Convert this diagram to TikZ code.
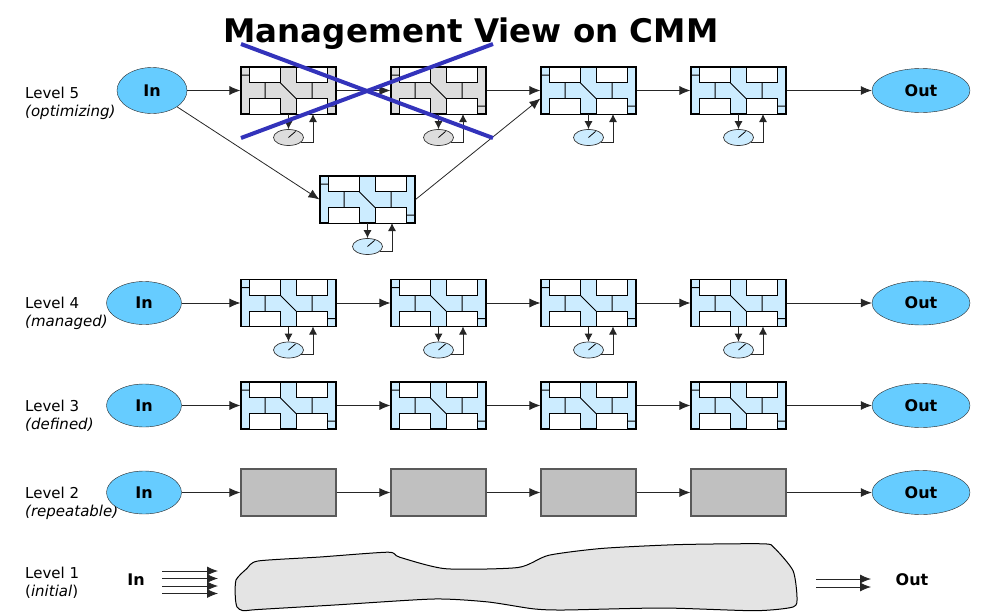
\documentclass[tikz,border=0pt]{standalone}
\usepackage{fontspec}
\setmainfont{DejaVu Sans}
\usepackage{tikz}
\usetikzlibrary{shapes.geometric, positioning, arrows.meta}
\definecolor{cellblue}{RGB}{204,236,255}
\definecolor{cellgray}{RGB}{221,221,221}
\definecolor{termblue}{RGB}{102,204,255}
\definecolor{stepgray}{RGB}{192,192,192}
\definecolor{crossblue}{RGB}{51,51,187}
\definecolor{blobgray}{RGB}{228,228,228}
\newcommand\boxpitch{150}
\tikzset{arrow/.style={draw=black!85, line width=0.8pt, -{Latex[length=11pt,width=9pt]}}}
\tikzset{smallarrow/.style={draw=black!85, line width=0.8pt, -{Latex[length=8pt,width=8pt]}}}
\tikzset{lvltext/.style={anchor=base west, font=\fontsize{15}{18}\selectfont, inner sep=0pt}}
\tikzset{terminal/.style={ellipse, draw=black!85, fill=termblue, minimum width=75, minimum height=43, inner sep=0pt, font=\fontsize{16}{18}\selectfont\bfseries}}
\tikzset{boxframe/.style={rectangle, draw=black, line width=1.1pt, minimum width=95, minimum height=47, inner sep=0pt}}
\tikzset{plainbox/.style={rectangle, draw=black!65, line width=1.2pt, fill=stepgray, minimum width=95, minimum height=47, inner sep=0pt}}
\tikzset{cell/.style={draw=black, fill=white, line width=1pt}}
\tikzset{wire/.style={draw=black, line width=1pt}}
\tikzset{gauge/.style={ellipse, draw=black!80, line width=0.7pt, minimum width=30, minimum height=16, inner sep=0pt}}
\tikzset{crossline/.style={draw=crossblue, line width=4pt}}
\tikzset{procbox/.pic={
  \node[boxframe, fill=#1] (-frame) {};
  \begin{scope}[shift={(-47.5,-23.5)}]
    \foreach \cx in {8,55} \foreach \cy in {0,31.5}
      \draw[cell] (\cx,\cy) rectangle ++(31,15.5);
    \draw[wire] (24,15.5) -- (24,31.5) (71,15.5) -- (71,31.5) (39,15.5) -- (55,31.5)
      (0,8) -- (8,8) (86,39) -- (95,39);
  \end{scope}
}}
\tikzset{meter/.pic={
  \node[gauge, fill=#1] (-dial) at (0,47) {};
  \draw[wire, line width=0.8pt] (-dial.center) -- ++(7,-6);
  \draw[smallarrow] (0,23.5) -- (-dial.north);
  \draw[smallarrow] (-dial.-20) -| (24.5,23.5);
}}

\begin{document}
\begin{tikzpicture}[x=1pt, y=-1pt]
\useasboundingbox (0,0) rectangle (985,613);
\node[anchor=base, inner sep=0pt, font=\fontsize{32.5}{36}\selectfont\bfseries] (title) at (471,42) {Management View on CMM};

\foreach \nm/\ds/\yy in {5/optimizing/98, 4/managed/308, 3/defined/411, 2/repeatable/498} {
	\node[lvltext] (lvl\nm) at (25,\yy) {Level \nm};
	\node[lvltext] (lvd\nm) at (25,\yy+18) {\itshape(\ds)};
}
\node[lvltext] (lvl1) at (25,578) {Level 1};
\node[lvltext] (lvd1) at (25,596) {(\textit{initial})};

% level 5
\node[terminal, minimum width=70, minimum height=46] (in5) at (152,90.5) {In};
\node[terminal, minimum width=98, minimum height=44] (out5) at (921,90.5) {Out};
\foreach \i/\cf in {1/cellgray, 2/cellgray, 3/cellblue, 4/cellblue} {
	\pic (box5\i) at (\i*\boxpitch+138.5,90.5) {procbox=\cf};
	\pic (dial5\i) at (\i*\boxpitch+138.5,90.5) {meter=\cf};
}
\pic (box5low) at (367.5,199.5) {procbox=cellblue};
\pic (dial5low) at (367.5,199.5) {meter=cellblue};
\draw[arrow] (in5) -- (box51-frame);
\foreach \i/\j in {1/2, 2/3, 3/4}
	\draw[arrow] (box5\i-frame) -- (box5\j-frame);
\draw[arrow] (box54-frame) -- (out5);
\draw[arrow] (in5) -- (box5low-frame.west);
\draw[arrow] (box5low-frame.east) -- ([yshift=-8pt]box53-frame.west);
\draw[crossline] (241,44) -- (493,138);
\draw[crossline] (241,138) -- (493,44);

% levels 4 and 3
\foreach \r/\yy in {4/303, 3/405.5} {
	\node[terminal] (in\r) at (144,\yy) {In};
	\node[terminal, minimum width=98, minimum height=44] (out\r) at (921,\yy) {Out};
	\foreach \i in {1,...,4}
		\pic (box\r\i) at (\i*\boxpitch+138.5,\yy) {procbox=cellblue};
	\draw[arrow] (in\r) -- (box\r1-frame);
	\foreach \i/\j in {1/2, 2/3, 3/4}
		\draw[arrow] (box\r\i-frame) -- (box\r\j-frame);
	\draw[arrow] (box\r4-frame) -- (out\r);
}
\foreach \i in {1,...,4}
	\pic (dial4\i) at (\i*\boxpitch+138.5,303) {meter=cellblue};

% level 2
\node[terminal] (in2) at (144,492.5) {In};
\node[terminal, minimum width=98, minimum height=44] (out2) at (921,492.5) {Out};
\foreach \i in {1,...,4}
	\node[plainbox] (box2\i) at (\i*\boxpitch+138.5,492.5) {};
\draw[arrow] (in2) -- (box21);
\foreach \i/\j in {1/2, 2/3, 3/4}
	\draw[arrow] (box2\i) -- (box2\j);
\draw[arrow] (box24) -- (out2);

% level 1
\node[font=\fontsize{16}{18}\selectfont\bfseries] (in1) at (136,580) {In};
\node[font=\fontsize{16}{18}\selectfont\bfseries] (out1) at (912,580) {Out};
\foreach \yy [count=\i] in {571, 578.5, 586, 593.5} {
	\coordinate (fanin\i) at (162,\yy);
	\coordinate (fanend\i) at (218,\yy);
	\draw[arrow] (fanin\i) -- (fanend\i);
}
\foreach \yy [count=\i] in {579, 587} {
	\coordinate (fanout\i) at (816,\yy);
	\coordinate (fantip\i) at (871,\yy);
	\draw[arrow] (fanout\i) -- (fantip\i);
}
\draw[draw=black, line width=1pt, fill=blobgray] plot[smooth cycle, tension=0.4] coordinates {
	(246.7,568.7) (258,561) (320,557) (388,552.2) (399.6,557.2) (445.4,568.7) (518,567.5)
	(548.6,555.3) (602,548.4) (678.5,544.6) (762.6,543.8) (774,547.6) (793,570.6) (797,597.3)
	(793,607) (755,610.7) (663,608) (564,610) (533,608.8) (487.5,601.9) (434,599) (334.6,605)
	(258,609.5) (243,610.7) (237,607) (235.3,597) (236,580)};
\end{tikzpicture}
\end{document}
